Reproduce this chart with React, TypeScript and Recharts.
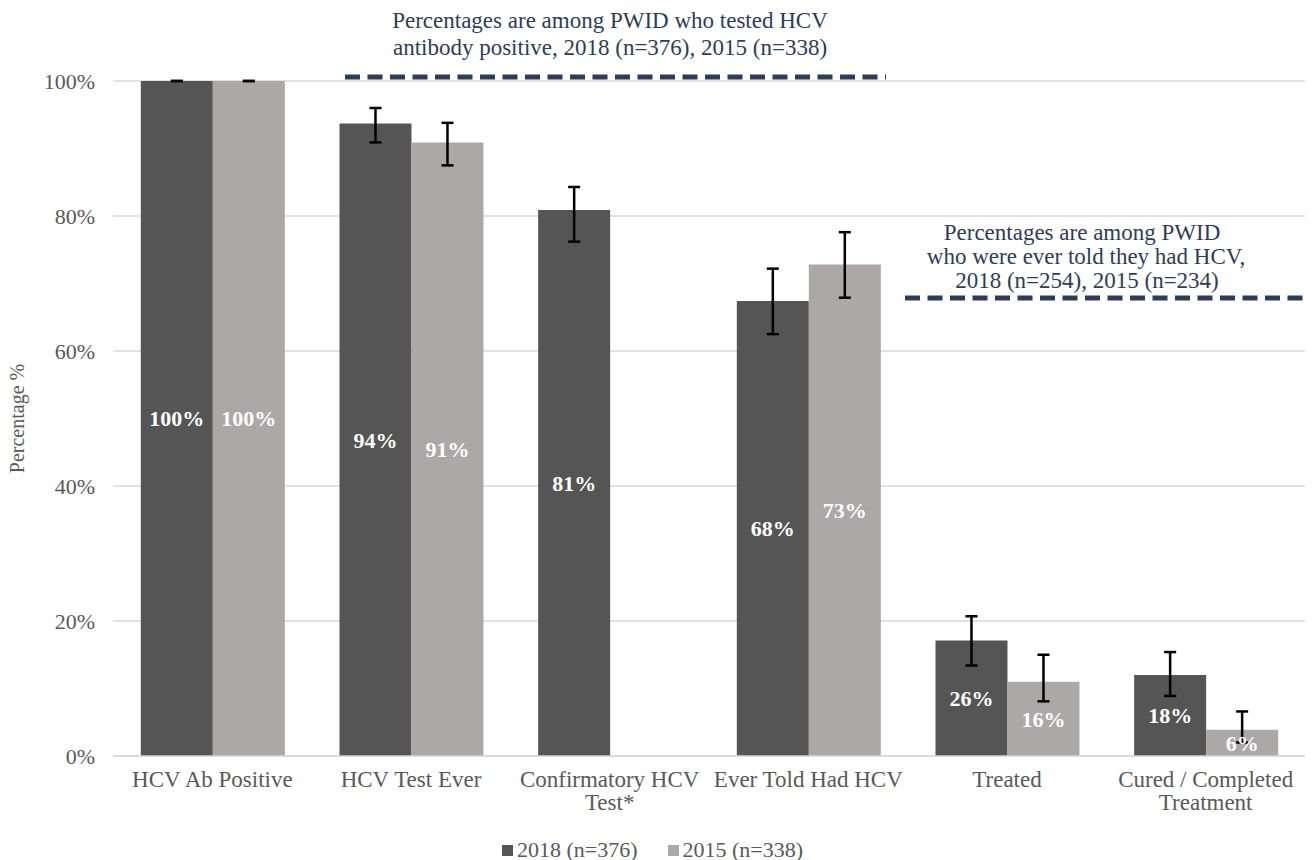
import { BarChart, Bar, XAxis, YAxis, CartesianGrid, Legend, ErrorBar, LabelList, Label } from 'recharts'

const categories = ['HCV Ab Positive', 'HCV Test Ever', 'Confirmatory HCV\nTest*', 'Ever Told Had HCV', 'Treated', 'Cured / Completed\nTreatment']
const seriesNames = ['2018 (n=376)', '2015 (n=338)']
const values2018 = [100, 93.7, 80.9, 67.4, 17.1, 12.0]
const values2015 = [100, 90.9, null, 72.8, 11.0, 3.9]
const labels2018 = ['100%', '94%', '81%', '68%', '26%', '18%']
const labels2015 = ['100%', '91%', '', '73%', '16%', '6%']
const low2018 = [100, 90.9, 76.2, 62.5, 13.4, 8.9]
const high2018 = [100, 96.0, 84.3, 72.2, 20.7, 15.4]
const low2015 = [100, 87.5, null, 67.9, 8.1, 2.0]
const high2015 = [100, 93.8, null, 77.6, 15.0, 6.6]
const yTicks = [0, 20, 40, 60, 80, 100]

const SERIF = '"Liberation Serif", "Times New Roman", serif'
const DARK = '#555555'
const LIGHT = '#aba8a7'
const NAVY = '#2e3d57'
const TEXT = '#595959'
const seriesColors = [DARK, LIGHT]

const data = categories.map((c, i) => ({
  name: c,
  v2018: values2018[i],
  v2015: values2015[i],
  lab2018: labels2018[i],
  lab2015: labels2015[i],
  err2018: [values2018[i] - low2018[i], high2018[i] - values2018[i]],
  err2015: values2015[i] == null ? undefined : [values2015[i]! - low2015[i]!, high2015[i]! - values2015[i]!],
}))

function CatTick({ x, y, payload }: any) {
  const lines = String(payload.value).split('\n')
  return (
    <text x={x} y={y} textAnchor="middle" fill={TEXT} fontSize={23} fontFamily={SERIF}>
      {lines.map((l, i) => (
        <tspan key={i} x={x} dy={i === 0 ? 31 : 23}>{l}</tspan>
      ))}
    </text>
  )
}

// legend drawn in fixed series order (2018 first)
function LegendBox() {
  return (
    <div style={{ display: 'flex', justifyContent: 'center', alignItems: 'center', height: 28, fontFamily: SERIF, fontSize: 22, color: TEXT }}>
      {seriesNames.map((n, i) => (
        <div key={n} style={{ display: 'flex', alignItems: 'center', marginRight: i === 0 ? 30 : 0 }}>
          <span style={{ width: 11, height: 11, background: seriesColors[i], marginRight: 4, display: 'inline-block' }} />
          <span>{n}</span>
        </div>
      ))}
    </div>
  )
}

function Notes() {
  return (
    <svg width={1316} height={860} style={{ position: 'absolute', left: 0, top: 0, pointerEvents: 'none' }}>
      <g fontFamily={SERIF} fontSize={23} fill={NAVY} textAnchor="middle" style={{ whiteSpace: 'pre' }}>
        <text x={610} y={28}>Percentages  are among PWID who tested HCV</text>
        <text x={610} y={55}>antibody  positive, 2018 (n=376), 2015 (n=338)</text>
        <text x={1082} y={240}>Percentages are among PWID</text>
        <text x={1086} y={264}>who were ever told they had HCV,</text>
        <text x={1087} y={288}>2018 (n=254), 2015 (n=234)</text>
      </g>
      <line x1={345} x2={886} y1={77} y2={77} stroke={NAVY} strokeWidth={5} strokeDasharray="15 7.5" />
      <line x1={905} x2={1303} y1={298} y2={298} stroke={NAVY} strokeWidth={5} strokeDasharray="15 7.5" />
    </svg>
  )
}

export default function App() {
  return (
    <div style={{ position: 'absolute', left: 0, top: 0, width: 1316, height: 860, background: '#fff' }}>
      <BarChart
        width={1316}
        height={860}
        data={data}
        margin={{ top: 81, right: 11, bottom: 14, left: 0 }}
        barCategoryGap="14%"
        barGap={0}
      >
        <CartesianGrid vertical={false} stroke="#d9d9d9" strokeWidth={1.5} />
        <XAxis
          dataKey="name"
          axisLine={{ stroke: '#d9d9d9', strokeWidth: 1.5 }}
          tickLine={false}
          tickSize={0}
          tickMargin={0}
          height={62}
          interval={0}
          tick={<CatTick />}
        />
        <YAxis
          width={113}
          domain={[0, 100]}
          ticks={yTicks}
          axisLine={false}
          tickLine={false}
          tickSize={0}
          tickMargin={18}
          tickFormatter={(v) => `${v}%`}
          tick={{ fill: TEXT, fontSize: 22, fontFamily: SERIF }}
        >
          <Label
            content={({ viewBox }: any) => {
              const cy = viewBox.y + viewBox.height / 2
              return (
                <text x={24} y={cy} transform={`rotate(-90, 24, ${cy})`} textAnchor="middle" fill={TEXT} fontSize={20} fontFamily={SERIF}>
                  Percentage %
                </text>
              )
            }}
          />
        </YAxis>
        <Legend verticalAlign="bottom" content={<LegendBox />} wrapperStyle={{ bottom: -4, height: 28 }} />
        <Bar dataKey="v2018" name={seriesNames[0]} fill={DARK} isAnimationActive={false}>
          <ErrorBar dataKey="err2018" width={6} strokeWidth={2.5} stroke="#000" direction="y" />
          <LabelList dataKey="lab2018" position="center" fill="#fff" fontSize={22} fontWeight="bold" fontFamily={SERIF} />
        </Bar>
        <Bar dataKey="v2015" name={seriesNames[1]} fill={LIGHT} isAnimationActive={false}>
          <ErrorBar dataKey="err2015" width={6} strokeWidth={2.5} stroke="#000" direction="y" />
          <LabelList dataKey="lab2015" position="center" fill="#fff" fontSize={22} fontWeight="bold" fontFamily={SERIF} />
        </Bar>
      </BarChart>
      <Notes />
    </div>
  )
}
